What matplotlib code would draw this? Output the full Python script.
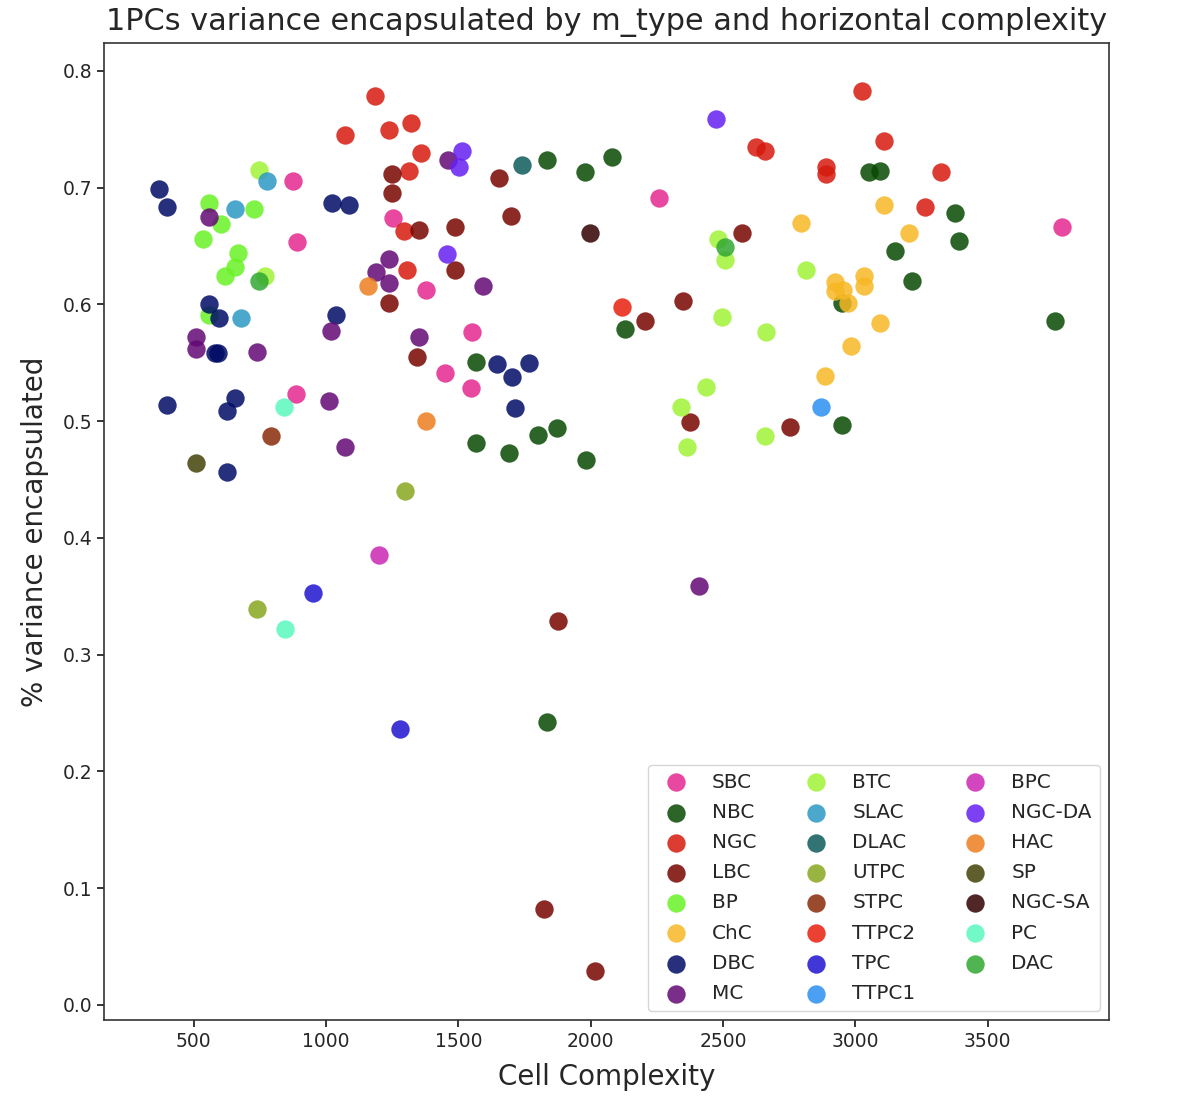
import numpy as np
import matplotlib
matplotlib.use('Agg')
import matplotlib.pyplot as plt

# m_types in legend order (column-major, 3 columns)
M_TYPES = ['SBC', 'NBC', 'NGC', 'LBC', 'BP', 'ChC', 'DBC', 'MC',
           'BTC', 'SLAC', 'DLAC', 'UTPC', 'STPC', 'TTPC2', 'TPC', 'TTPC1',
           'BPC', 'NGC-DA', 'HAC', 'SP', 'NGC-SA', 'PC', 'DAC']

# colours as they look on white (alpha is applied on top)
SEEN_COLORS = ['#e848a0', '#2d6428', '#dc3c32', '#8c2a24', '#80f546', '#f8c346', '#26307c', '#7a2d8a',
               '#afF555', '#4ba8cd', '#327373', '#9bb441', '#9b4b2d', '#eb4132', '#4137d7', '#4ba0f5',
               '#d246be', '#7d41f5', '#f09141', '#5f5f2d', '#501e19', '#73fac8', '#50b450']

complexity = {
    'SBC': [874, 889, 1251, 1379, 1553, 1449, 1546, 888, 2257, 3783],
    'NBC': [1833, 1978, 2082, 1568, 1568, 1690, 1801, 1871, 1984, 2129,
            3051, 3095, 3376, 3391, 3149, 3216, 2951, 2951, 3754, 1833],
    'NGC': [1184, 1319, 1237, 1071, 1357, 1313, 1295, 1304, 3027, 2624,
            2658, 2891, 2891, 3110, 3322, 3262],
    'LBC': [1249, 1249, 1653, 1350, 1486, 1697, 1486, 1237, 1342, 2573,
            2347, 2204, 2377, 2755, 1878, 1825, 2015],
    'BP': [557, 728, 601, 533, 667, 655, 616, 557],
    'ChC': [3108, 2793, 3201, 2922, 2922, 2954, 3033, 3033, 2973, 3095, 2983, 2885],
    'DBC': [367, 398, 1024, 1086, 557, 594, 579, 592, 1039, 1644, 1704, 1766,
            1713, 397, 655, 624, 624],
    'MC': [1461, 557, 1237, 1190, 1237, 1591, 510, 510, 737, 1017, 1350, 1009, 1071, 2408],
    'BTC': [745, 768, 2481, 2507, 2498, 2664, 2815, 2437, 2340, 2362, 2658],
    'SLAC': [775, 655, 678],
    'DLAC': [1742],
    'UTPC': [1297, 737],
    'STPC': [790],
    'TTPC2': [2120],
    'TPC': [949, 1281],
    'TTPC1': [2869],
    'BPC': [1198],
    'NGC-DA': [1515, 1501, 1455, 2475],
    'HAC': [1160, 1379],
    'SP': [510],
    'NGC-SA': [1999],
    'PC': [841, 843],
    'DAC': [746, 2507],
}

variance = {
    'SBC': [0.706, 0.653, 0.674, 0.612, 0.576, 0.541, 0.528, 0.523, 0.691, 0.666],
    'NBC': [0.724, 0.713, 0.726, 0.551, 0.481, 0.473, 0.488, 0.494, 0.467, 0.579,
            0.713, 0.714, 0.678, 0.654, 0.646, 0.620, 0.601, 0.497, 0.586, 0.242],
    'NGC': [0.778, 0.755, 0.749, 0.745, 0.730, 0.714, 0.663, 0.629, 0.783, 0.735,
            0.731, 0.718, 0.712, 0.740, 0.713, 0.683],
    'LBC': [0.712, 0.695, 0.708, 0.664, 0.666, 0.676, 0.629, 0.601, 0.555, 0.661,
            0.603, 0.586, 0.499, 0.495, 0.329, 0.082, 0.029],
    'BP': [0.687, 0.682, 0.669, 0.656, 0.644, 0.632, 0.624, 0.591],
    'ChC': [0.685, 0.670, 0.661, 0.619, 0.611, 0.612, 0.624, 0.616, 0.601, 0.584, 0.564, 0.539],
    'DBC': [0.699, 0.683, 0.687, 0.685, 0.600, 0.588, 0.558, 0.558, 0.591, 0.549, 0.538, 0.550,
            0.511, 0.514, 0.520, 0.509, 0.456],
    'MC': [0.724, 0.675, 0.639, 0.628, 0.618, 0.616, 0.572, 0.562, 0.559, 0.577, 0.572, 0.517, 0.478, 0.359],
    'BTC': [0.715, 0.624, 0.656, 0.638, 0.589, 0.576, 0.629, 0.529, 0.512, 0.478, 0.487],
    'SLAC': [0.706, 0.682, 0.588],
    'DLAC': [0.719],
    'UTPC': [0.440, 0.339],
    'STPC': [0.487],
    'TTPC2': [0.598],
    'TPC': [0.353, 0.236],
    'TTPC1': [0.512],
    'BPC': [0.385],
    'NGC-DA': [0.731, 0.718, 0.643, 0.759],
    'HAC': [0.616, 0.500],
    'SP': [0.464],
    'NGC-SA': [0.661],
    'PC': [0.512, 0.322],
    'DAC': [0.620, 0.649],
}

ALPHA = 0.85


def base_color(seen):
    # undo the blend with the white background
    rgb = np.array(matplotlib.colors.to_rgb(seen))
    return tuple(np.clip((rgb - (1 - ALPHA)) / ALPHA, 0, 1))


fig = plt.figure(figsize=(12, 11.08), dpi=100)
ax = fig.add_axes([0.087, 0.0794, 0.837, 0.882])

for m_type, seen in zip(M_TYPES, SEEN_COLORS):
    ax.scatter(complexity[m_type], variance[m_type], s=175, color=base_color(seen),
               alpha=ALPHA, linewidths=0, label=m_type)

ax.set_xlim(162, 3958)
ax.set_ylim(-0.013, 0.824)
ax.set_xticks([500, 1000, 1500, 2000, 2500, 3000, 3500])
ax.set_yticks([0.0, 0.1, 0.2, 0.3, 0.4, 0.5, 0.6, 0.7, 0.8])
ax.tick_params(labelsize=13.5, length=5, width=1.1, labelcolor='#262626')
for sp in ax.spines.values():
    sp.set_linewidth(1.2)
    sp.set_color('#333333')

ax.set_title('1PCs variance encapsulated by m_type and horizontal complexity',
             fontsize=21.8, pad=9, color='#262626')
ax.set_xlabel('Cell Complexity', fontsize=20, labelpad=9, color='#262626')
ax.set_ylabel('% variance encapsulated', fontsize=20, labelpad=10, color='#262626')
leg = ax.legend(loc='lower right', ncol=3, fontsize=14.4, borderaxespad=0.45,
                labelspacing=0.56)
for t in leg.get_texts():
    t.set_color('#262626')

fig.savefig('out.png', dpi=100)
